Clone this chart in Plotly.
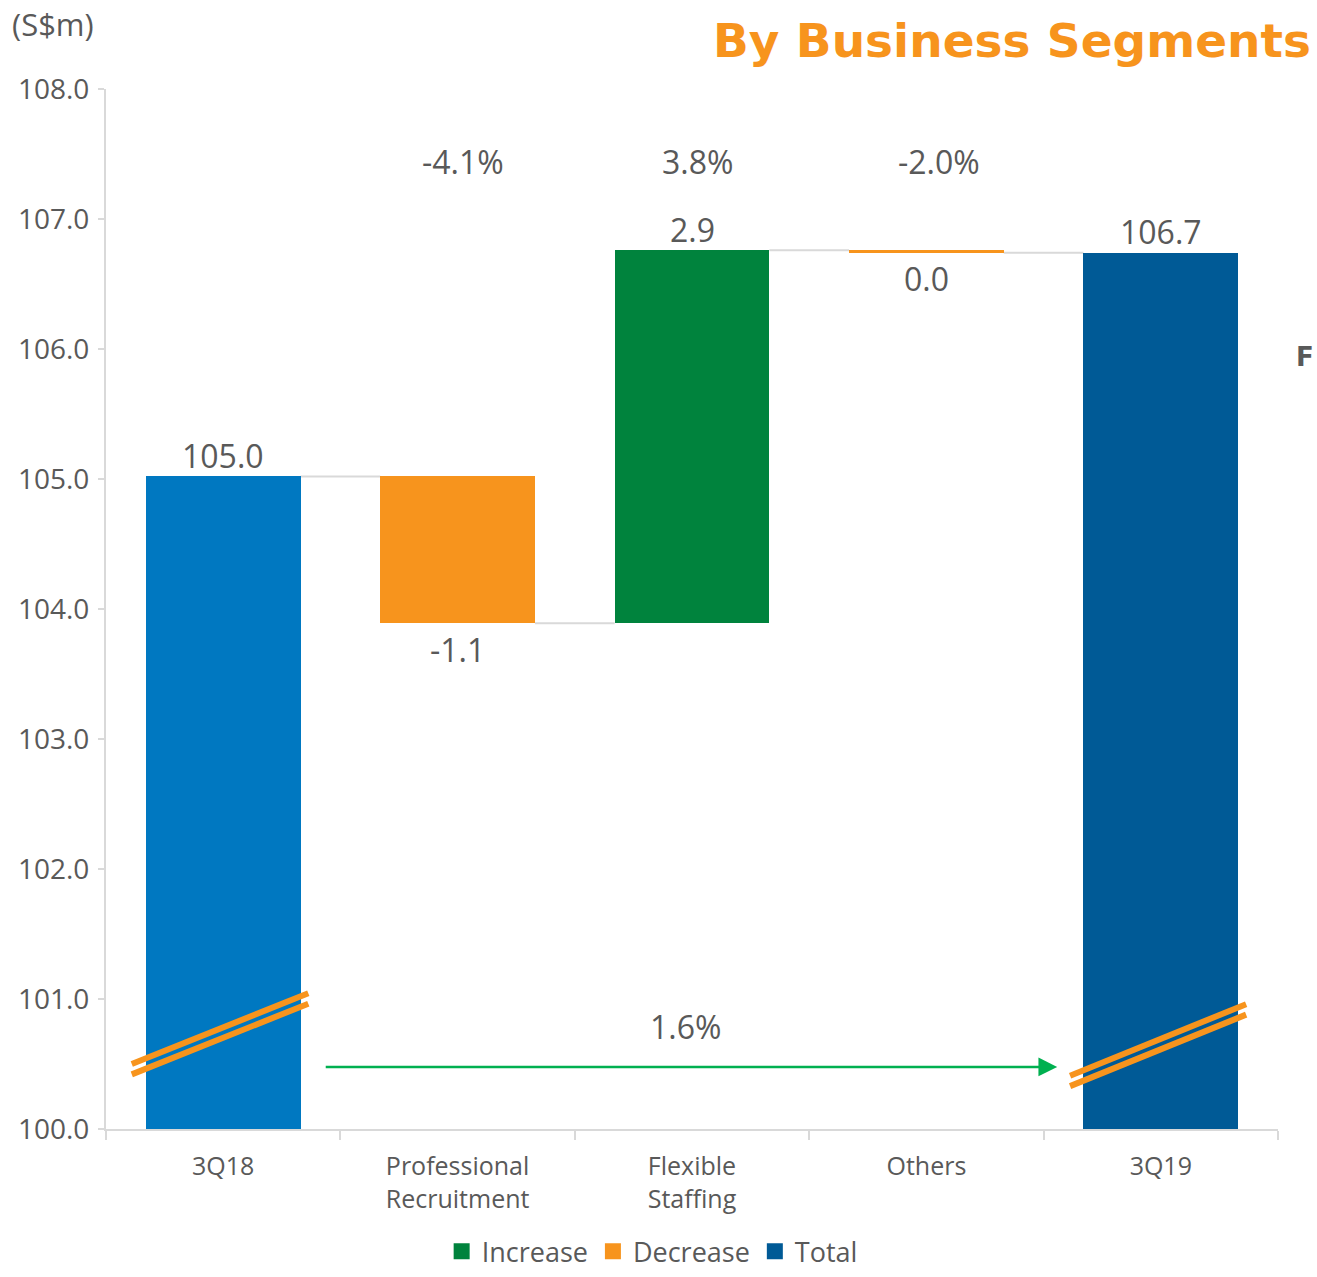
import plotly.graph_objects as go

# ---- data -------------------------------------------------------------
categories = ["3Q18", "Professional<br>Recruitment", "Flexible<br>Staffing", "Others", "3Q19"]
start_value = 105.02           # 3Q18 revenue (S$m)
segment_changes = [-1.13, 2.87, -0.02]   # Professional Recruitment, Flexible Staffing, Others
segment_growth = ["-4.1%", "3.8%", "-2.0%"]
total_growth = "1.6%"
legend_names = ["Increase", "Decrease", "Total"]

# ---- derived waterfall geometry ----------------------------------------
levels = [start_value]
for c in segment_changes:
    levels.append(round(levels[-1] + c, 2))
end_value = levels[-1]

C_START = "#0078C1"
C_TOTAL = "#005A96"
C_UP = "#00833D"
C_DOWN = "#F7941D"
C_TEXT = "#595959"
C_AXIS = "#D9D9D9"
C_ARROW = "#00B050"
FONT = "Open Sans"
BAR_W = 0.66
LABEL_SIZE = 32


def fmt(v):
    return f"{round(v, 1) + 0.0:.1f}"


fig = go.Figure()

# opening and closing totals
fig.add_trace(go.Bar(x=[categories[0]], y=[start_value], base=0, width=BAR_W,
                     marker=dict(color=C_START, line=dict(width=0)),
                     showlegend=False, hoverinfo="skip"))
fig.add_trace(go.Bar(x=[categories[-1]], y=[end_value], base=0, width=BAR_W,
                     marker=dict(color=C_TOTAL, line=dict(width=0)),
                     showlegend=False, hoverinfo="skip"))

# segment movements
for i, c in enumerate(segment_changes):
    fig.add_trace(go.Bar(x=[categories[i + 1]], y=[c], base=levels[i], width=BAR_W,
                         marker=dict(color=C_UP if c >= 0 else C_DOWN, line=dict(width=0)),
                         showlegend=False, hoverinfo="skip"))

# legend entries
for name, col in zip(legend_names, [C_UP, C_DOWN, C_TOTAL]):
    fig.add_trace(go.Scatter(x=[None], y=[None], mode="markers", name=name,
                             marker=dict(symbol="square", size=16, color=col)))

shapes = []
# connector lines between consecutive bars
for i, lvl in enumerate(levels):
    shapes.append(dict(type="line", xref="x", yref="y",
                       x0=i + BAR_W / 2, x1=i + 1 - BAR_W / 2, y0=lvl, y1=lvl,
                       line=dict(color=C_AXIS, width=2), layer="below"))

# axis-break marks on the two total bars
for (xa, xb, ya, yb) in [(-0.39, 0.363, 100.50, 101.044), (3.613, 4.364, 100.41, 100.96)]:
    for dy in (0.0, -0.08):
        shapes.append(dict(type="line", xref="x", yref="y",
                           x0=xa, x1=xb, y0=ya + dy, y1=yb + dy,
                           line=dict(color=C_DOWN, width=6)))

annotations = []
# value labels
annotations.append(dict(x=0, y=start_value, text=fmt(start_value), showarrow=False,
                        yanchor="middle", yshift=21))
for i, c in enumerate(segment_changes):
    top = max(levels[i], levels[i + 1])
    bottom = min(levels[i], levels[i + 1])
    if c > 0:
        annotations.append(dict(x=i + 1, y=top, text=fmt(c), showarrow=False,
                                yanchor="middle", yshift=21))
    else:
        annotations.append(dict(x=i + 1, y=bottom, text=fmt(c), showarrow=False,
                                yanchor="middle", yshift=-26))
annotations.append(dict(x=4, y=end_value, text=fmt(end_value), showarrow=False,
                        yanchor="middle", yshift=21))

# segment growth rates
for i, (g, dx) in enumerate(zip(segment_growth, [5, 5, 13])):
    annotations.append(dict(x=i + 1, y=107.44, text=g, showarrow=False,
                            yanchor="middle", xshift=dx))

for a in annotations:
    a.update(xref="x", yref="y", font=dict(family=FONT, size=LABEL_SIZE, color=C_TEXT))

# overall growth arrow
annotations.append(dict(x=3.558, y=100.477, ax=0.431, ay=100.477,
                        xref="x", yref="y", axref="x", ayref="y",
                        text="", showarrow=True, arrowhead=2, arrowsize=1.5,
                        arrowwidth=2.5, arrowcolor=C_ARROW))
annotations.append(dict(x=1.971, y=100.785, xref="x", yref="y", text=total_growth,
                        showarrow=False, font=dict(family=FONT, size=LABEL_SIZE, color=C_TEXT)))

# unit label, heading and side letter
annotations.append(dict(x=-0.0819, y=1.0625, xref="paper", yref="paper", text="(S$m)",
                        showarrow=False, xanchor="left", yanchor="middle",
                        font=dict(family=FONT, size=31, color=C_TEXT)))
annotations.append(dict(x=1.0299, y=1.047, xref="paper", yref="paper",
                        text="<b>By Business Segments</b>",
                        showarrow=False, xanchor="right", yanchor="middle",
                        font=dict(family="DejaVu Sans", size=47, color=C_DOWN)))
annotations.append(dict(x=1.0324, y=0.742, xref="paper", yref="paper", text="<b>F</b>",
                        showarrow=False, xanchor="right", yanchor="middle",
                        font=dict(family="DejaVu Sans", size=26, color=C_TEXT)))

fig.update_layout(
    width=1317, height=1277,
    margin=dict(l=106, r=39, t=89, b=148, autoexpand=False),
    paper_bgcolor="white", plot_bgcolor="white",
    barmode="overlay", bargap=0,
    showlegend=True,
    legend=dict(orientation="h", x=0.466, y=-0.1415, xanchor="center", yanchor="bottom",
                font=dict(family=FONT, size=27, color=C_TEXT), itemsizing="trace",
                borderwidth=0),
    shapes=shapes, annotations=annotations,
    xaxis=dict(type="category", range=[-0.5, 4.5], categoryorder="array",
               categoryarray=categories, tickson="boundaries",
               showline=True, linecolor=C_AXIS, linewidth=2,
               ticks="outside", ticklen=9, tickcolor=C_AXIS, tickwidth=2,
               tickfont=dict(family=FONT, size=25, color=C_TEXT),
               ticklabelstandoff=14, showgrid=False, fixedrange=True),
    yaxis=dict(range=[100, 108], dtick=1, tickformat=".1f",
               showline=True, linecolor=C_AXIS, linewidth=2,
               ticks="outside", ticklen=6, tickcolor=C_AXIS, tickwidth=2,
               tickfont=dict(family=FONT, size=28, color=C_TEXT),
               ticklabelstandoff=3, showgrid=False, zeroline=False, fixedrange=True),
)

fig.write_html("out.html")
